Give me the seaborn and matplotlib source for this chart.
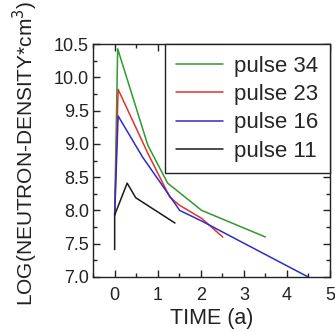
import matplotlib
matplotlib.use("Agg")
import matplotlib.pyplot as plt
from matplotlib.ticker import MultipleLocator, FormatStrFormatter
import pandas as pd
import seaborn as sns

# values
t34 = [0.0, 0.07, 0.77, 1.23, 2.02, 3.5]
n34 = [7.93, 10.43, 8.98, 8.41, 8.0, 7.6]
t23 = [0.0, 0.08, 0.77, 1.28, 1.5, 2.02, 2.51]
n23 = [7.93, 9.82, 8.86, 8.2, 8.08, 7.88, 7.6]
t16 = [0.0, 0.08, 0.65, 1.51, 2.02, 4.49]
n16 = [7.93, 9.42, 8.8, 8.0, 7.84, 7.0]
t11 = [0.0, 0.0, 0.29, 0.49, 1.4]
n11 = [7.41, 7.93, 8.41, 8.19, 7.81]

labels = ["pulse 34", "pulse 23", "pulse 16", "pulse 11"]
colors = ["#2f9a2f", "#e3322b", "#2e2ec4", "#1a1a1a"]

rows = []
for lab, tt, nn in zip(labels, [t34, t23, t16, t11], [n34, n23, n16, n11]):
    for a, b in zip(tt, nn):
        rows.append({"time": a, "dens": b, "pulse": lab})
df = pd.DataFrame(rows)

sns.set_style("ticks")
plt.rcParams['font.family'] = ['Liberation Sans', 'DejaVu Sans']

fig = plt.figure(figsize=(3.35, 3.32), dpi=100)
ax = fig.add_axes([0.278, 0.166, 0.707, 0.701])

sns.lineplot(data=df, x="time", y="dens", hue="pulse", hue_order=labels,
             palette=colors, sort=False, estimator=None, units="pulse",
             linewidth=1.1, ax=ax)

ax.set_xlim(-0.5, 5)
ax.set_ylim(7.0, 10.5)
ax.xaxis.set_major_locator(MultipleLocator(1))
ax.xaxis.set_minor_locator(MultipleLocator(0.5))
ax.yaxis.set_major_locator(MultipleLocator(0.5))
ax.yaxis.set_minor_locator(MultipleLocator(0.25))
ax.yaxis.set_major_formatter(FormatStrFormatter('%.1f'))
ax.tick_params(which='both', direction='in', top=True, right=True,
               width=1, colors='#222', labelsize=13, labelcolor='#222')
ax.tick_params(which='major', length=5)
ax.tick_params(axis='y', which='major', pad=3)
ax.tick_params(axis='x', which='major', pad=7)
ax.tick_params(which='minor', length=3)
for s in ax.spines.values():
    s.set_color('#222')
    s.set_linewidth(1)

ax.set_xlabel("TIME (a)", fontsize=15.5, color='#222', labelpad=3)
ax.set_ylabel("LOG(NEUTRON-DENSITY*cm$^3$)", fontsize=15, color='#222')
ax.yaxis.set_label_coords(-0.224, 0.532)

leg = ax.legend(loc='upper right', borderaxespad=0, fancybox=False,
                fontsize=16, handlelength=2.1, handletextpad=0.5,
                labelspacing=0.33, borderpad=0.52, framealpha=1)
leg.get_frame().set_edgecolor('#222')
leg.get_frame().set_linewidth(1)

plt.savefig("out.png", dpi=100)
